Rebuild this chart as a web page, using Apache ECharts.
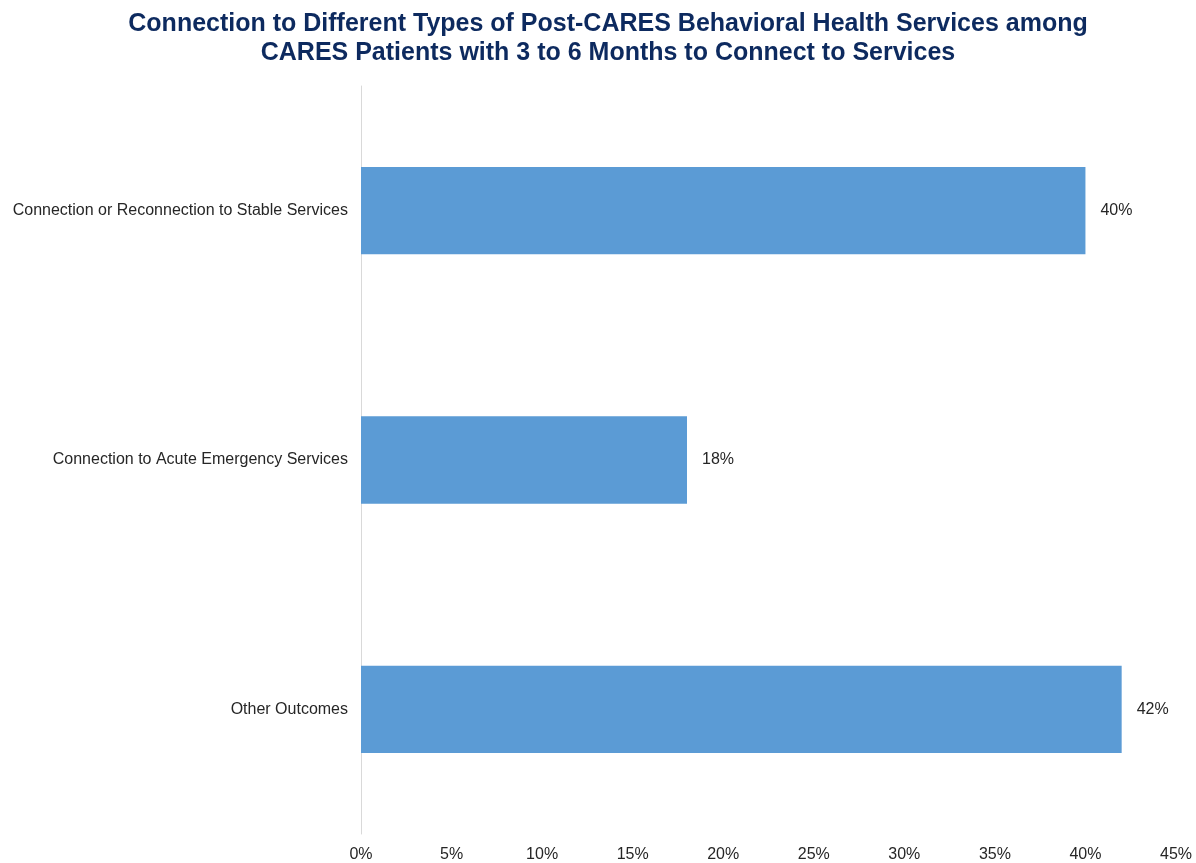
<!DOCTYPE html>
<html>
<head>
<meta charset="utf-8">
<script src="https://cdn.jsdelivr.net/npm/echarts@6/dist/echarts.min.js"></script>
<style>
html,body{margin:0;padding:0;background:#fff;}
#container{width:1196px;height:863px;}
</style>
</head>
<body>
<div id="container"></div>
<script>
var categories = ['Connection or Reconnection to Stable Services', 'Connection to Acute Emergency Services', 'Other Outcomes'];
var shares = [40, 18, 42];
var xTicks = [0, 5, 10, 15, 20, 25, 30, 35, 40, 45];

var fontName = "'Liberation Sans', Arial, sans-serif";

var option = {
	backgroundColor: '#fff',
	animation: false,
	title: {
		text: 'Connection to Different Types of Post-CARES Behavioral Health Services among\nCARES Patients with 3 to 6 Months to Connect to Services',
		left: 603,
		textAlign: 'center',
		top: 5,
		textStyle: {
			fontFamily: fontName,
			fontSize: 25,
			fontWeight: 'bold',
			color: '#0D2A5F',
			lineHeight: 29
		}
	},
	grid: {
		left: 361,
		right: 20,
		top: 86,
		bottom: 28
	},
	xAxis: {
		type: 'value',
		min: xTicks[0],
		max: xTicks[xTicks.length - 1],
		interval: 5,
		axisLine: {show: false},
		axisTick: {show: false},
		splitLine: {show: false},
		axisLabel: {
			margin: 13,
			fontFamily: fontName,
			fontSize: 16,
			color: '#262626',
			formatter: '{value}%'
		}
	},
	yAxis: {
		type: 'category',
		inverse: true,
		data: categories,
		axisLine: {show: true, lineStyle: {color: '#d9d9d9', width: 1}},
		axisTick: {show: false},
		axisLabel: {
			margin: 13,
			fontFamily: fontName,
			fontSize: 16,
			color: '#262626'
		}
	},
	series: [{
		type: 'bar',
		data: shares,
		barWidth: '35%',
		itemStyle: {color: '#5B9BD5'},
		label: {
			show: true,
			position: 'right',
			distance: 15,
			formatter: '{c}%',
			fontFamily: fontName,
			fontSize: 16,
			color: '#262626'
		}
	}]
};

var mychart = echarts.init(document.getElementById('container'));
mychart.setOption(option);
</script>
</body>
</html>
